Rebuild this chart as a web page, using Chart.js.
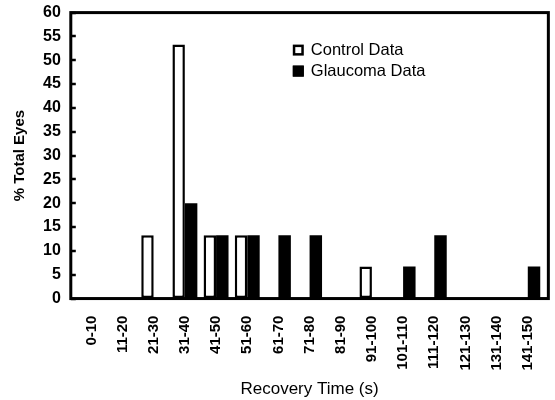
<!DOCTYPE html>
<html>
<head>
<meta charset="utf-8">
<script src="https://cdn.jsdelivr.net/npm/chart.js@4"></script>
<style>
  html, body { margin: 0; padding: 0; background: #fff; }
  #wrap { width: 555px; height: 400px; }
</style>
</head>
<body>
<div id="wrap"><canvas id="recovery-graph"></canvas></div>
<script>
const categories = ['0-10', '11-20', '21-30', '31-40', '41-50', '51-60', '61-70', '71-80',
    '81-90', '91-100', '101-110', '111-120', '121-130', '131-140', '141-150']
const controlData = [0, 0, 13.3, 53.3, 13.3, 13.3, 0, 0, 0, 6.7, 0, 0, 0, 0, 0]
const glaucomaData = [0, 0, 0, 20, 13.3, 13.3, 13.3, 13.3, 0, 0, 6.7, 13.3, 0, 0, 6.7]
const yTicks = [0, 5, 10, 15, 20, 25, 30, 35, 40, 45, 50, 55, 60]

Chart.defaults.font.family = "'Liberation Sans', Arial, sans-serif"
Chart.defaults.color = '#000'

function toPoints(values){
    return values.map((v, i) => ({ x: i, y: v }))
}

// thick black frame round the plot, with short ticks pointing inwards
const framePlugin = {
    id: 'frame',
    afterDraw(chart){
        const a = chart.chartArea
        const ctx = chart.ctx
        const yScale = chart.scales.y
        ctx.save()
        ctx.strokeStyle = '#000'
        ctx.lineWidth = 2.5
        yScale.ticks.forEach(t => {
            let py = Math.round(yScale.getPixelForValue(t.value))
            ctx.beginPath()
            ctx.moveTo(a.left, py)
            ctx.lineTo(a.left + 5, py)
            ctx.stroke()
        })
        ctx.lineWidth = 3
        ctx.strokeRect(a.left, a.top, a.right - a.left, a.bottom - a.top)
        ctx.restore()
    }
}

// legend sits inside the plot, upper middle
const innerLegend = {
    id: 'innerLegend',
    afterDraw(chart){
        const ctx = chart.ctx
        const a = chart.chartArea
        let x = a.left + 222
        let y = a.top + 37
        ctx.save()
        ctx.font = "16.5px 'Liberation Sans', Arial, sans-serif"
        ctx.textBaseline = 'middle'
        chart.data.datasets.forEach(ds => {
            ctx.fillStyle = ds.backgroundColor
            ctx.fillRect(x, y - 5, 11, 11)
            ctx.strokeStyle = '#000'
            ctx.lineWidth = 2.5
            ctx.strokeRect(x + 1.25, y - 3.75, 8.5, 8.5)
            ctx.fillStyle = '#000'
            ctx.fillText(ds.label, x + 18, y + 1)
            y += 21
        })
        ctx.restore()
    }
}

const ctx = document.getElementById('recovery-graph').getContext('2d')
const myChart = new Chart(ctx, {
    type: 'bar',
    data: {
        datasets: [{
            label: 'Control Data',
            data: toPoints(controlData),
            backgroundColor: '#fff',
            borderColor: '#000',
            borderWidth: 2.5,
            borderSkipped: false,
            categoryPercentage: 0.8,
            barPercentage: 1
        }, {
            label: 'Glaucoma Data',
            data: toPoints(glaucomaData),
            backgroundColor: '#000',
            borderColor: '#000',
            borderWidth: 0,
            categoryPercentage: 0.8,
            barPercentage: 1
        }]
    },
    options: {
        responsive: true,
        maintainAspectRatio: false,
        animation: false,
        layout: {
            padding: { top: 0, right: 5, left: 8, bottom: 0 }
        },
        plugins: {
            legend: { display: false },
            tooltip: { enabled: false }
        },
        scales: {
            x: {
                type: 'linear',
                min: -0.66,
                max: 14.66,
                offset: false,
                grid: { display: false },
                border: { display: false },
                afterBuildTicks: scale => {
                    scale.ticks = categories.map((c, i) => ({ value: i }))
                },
                ticks: {
                    autoSkip: false,
                    minRotation: 90,
                    maxRotation: 90,
                    padding: 9,
                    font: { size: 15, weight: 'bold' },
                    callback: v => categories[v]
                },
                title: {
                    display: true,
                    text: 'Recovery Time (s)',
                    font: { size: 17 },
                    padding: { top: 0, bottom: 0 }
                }
            },
            y: {
                min: 0,
                max: 60,
                afterBuildTicks: scale => {
                    scale.ticks = yTicks.map(v => ({ value: v }))
                },
                grid: {
                    display: true,
                    drawOnChartArea: false,
                    drawTicks: true,
                    tickLength: 7,
                    color: 'rgba(0,0,0,0)'
                },
                border: { display: false },
                ticks: {
                    autoSkip: false,
                    padding: 3,
                    font: { size: 16, weight: 'bold' }
                },
                title: {
                    display: true,
                    text: '% Total Eyes',
                    font: { size: 15, weight: 'bold' },
                    padding: { top: 3, bottom: 11 }
                }
            }
        }
    },
    plugins: [framePlugin, innerLegend]
})
</script>
</body>
</html>
